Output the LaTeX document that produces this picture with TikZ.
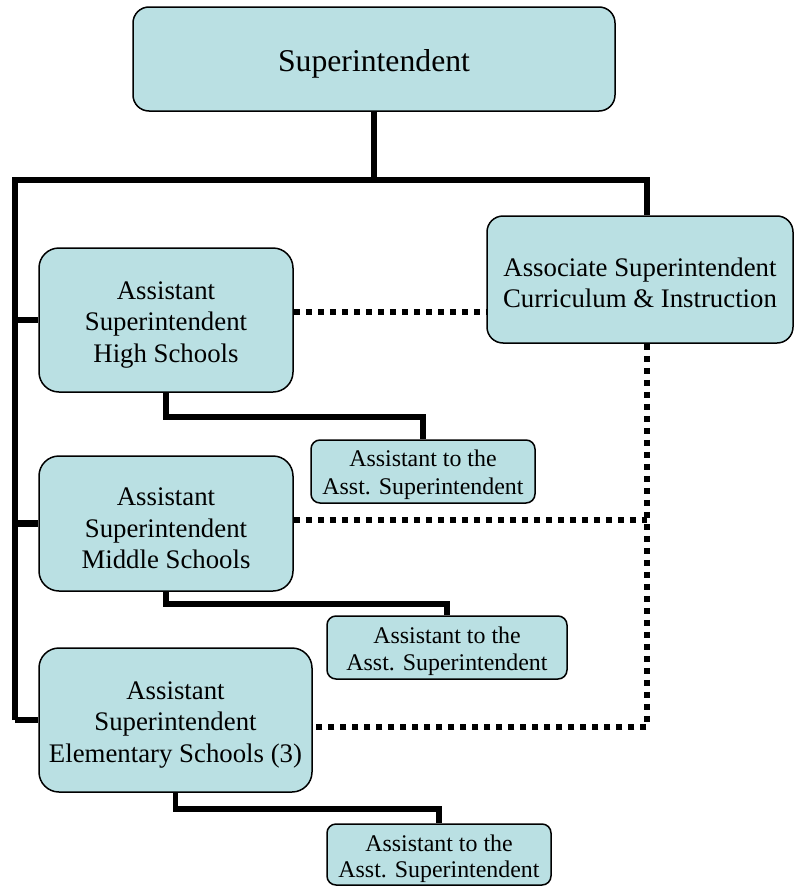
\documentclass[tikz,border=0pt]{standalone}
\usepackage{fontspec}
\setmainfont{Liberation Serif}
\definecolor{boxfill}{HTML}{BAE0E3}
\begin{document}
\begin{tikzpicture}[x=1pt,y=-1pt,
  box/.style={draw=black, line width=1.5pt, fill=boxfill, inner sep=0pt, anchor=center},
  bigbox/.style={box, rounded corners=16pt},
  midbox/.style={box, rounded corners=20pt},
  smallbox/.style={box, rounded corners=9pt},
  txt/.style={align=center, inner sep=0pt, anchor=center},
  bigtxt/.style={txt, font=\fontsize{31.7}{36}\selectfont},
  midtxt/.style={txt, font=\fontsize{26.8}{31.3}\selectfont},
  smalltxt/.style={txt, font=\fontsize{23.9}{28}\selectfont},
  mainline/.style={line width=6.5pt, line join=miter},
  subline/.style={line width=5.5pt, line join=miter},
  dotline/.style={line width=6pt, dash pattern=on 6pt off 6pt}]
\useasboundingbox (0,0) rectangle (794,886);

\node[bigbox, minimum width=482pt, minimum height=104pt] (sup) at (374,59) {};
\node[midbox, minimum width=306pt, minimum height=127pt, rounded corners=16pt] (assoc) at (640,279.5) {};
\node[midbox, minimum width=254pt, minimum height=144pt] (high) at (166,320) {};
\node[midbox, minimum width=254pt, minimum height=135pt] (mid) at (166,523.5) {};
\node[midbox, minimum width=273pt, minimum height=144pt] (elem) at (175.5,720) {};
\node[smallbox, minimum width=224pt, minimum height=63pt] (at1) at (423,471.5) {};
\node[smallbox, minimum width=240pt, minimum height=63pt] (at2) at (447,647.5) {};
\node[smallbox, minimum width=224pt, minimum height=61pt] (at3) at (439,854.5) {};

\node[bigtxt] (tsup) at ([yshift=-5pt]sup.center) {Superintendent};
\node[midtxt] (tassoc) at ([yshift=-3pt]assoc.center) {Associate Superintendent\\Curriculum \& Instruction};
\node[midtxt] (thigh) at ([yshift=-5pt]high.center) {Assistant\\Superintendent\\High Schools};
\node[midtxt] (tmid) at ([yshift=-5pt]mid.center) {Assistant\\Superintendent\\Middle Schools};
\node[midtxt] (telem) at ([yshift=-5pt]elem.center) {Assistant\\Superintendent\\Elementary Schools (3)};
\node[smalltxt] (tat1) at ([yshift=-3pt]at1.center) {Assistant to the\\Asst. Superintendent};
\node[smalltxt, font=\fontsize{23.9}{27}\selectfont] (tat2) at ([yshift=-4pt]at2.center) {Assistant to the\\Asst. Superintendent};
\node[smalltxt, font=\fontsize{23.9}{26.5}\selectfont] (tat3) at ([yshift=-4pt]at3.center) {Assistant to the\\Asst. Superintendent};

\coordinate (j) at (374,180);
\coordinate (tl) at (15,180);
\coordinate (tr) at (647,180);
\coordinate (dh) at (0,312);
\coordinate (dm) at (0,520);
\coordinate (de) at (0,727);
\coordinate (dv) at (647,0);

% solid hierarchy
\draw[mainline] (sup.south) -- (j);
\draw[mainline] (tl |- elem.west) -- (tl) -- (tr) -- (tr |- assoc.north);
\draw[mainline] (tl |- elem.west) -- (elem.west);
\draw[mainline] (tl |- high.west) -- (high.west);
\draw[mainline] (tl |- mid.west) -- (mid.west);

\draw[subline] (high.south) -- ++(0,24) -| (at1.north);
\draw[subline] (mid.south) -- ++(0,12) -| (at2.north);
\draw[subline] (elem.south) -- ++(0,16) -| (at3.north);

% dotted relations
\draw[dotline] (high.east |- dh) -- (assoc.west |- dh);
\draw[dotline] (dv |- assoc.south) -- (dv |- de) -- (elem.east |- de);
\draw[dotline] (mid.east |- dm) -- (dv |- dm);
\end{tikzpicture}
\end{document}
